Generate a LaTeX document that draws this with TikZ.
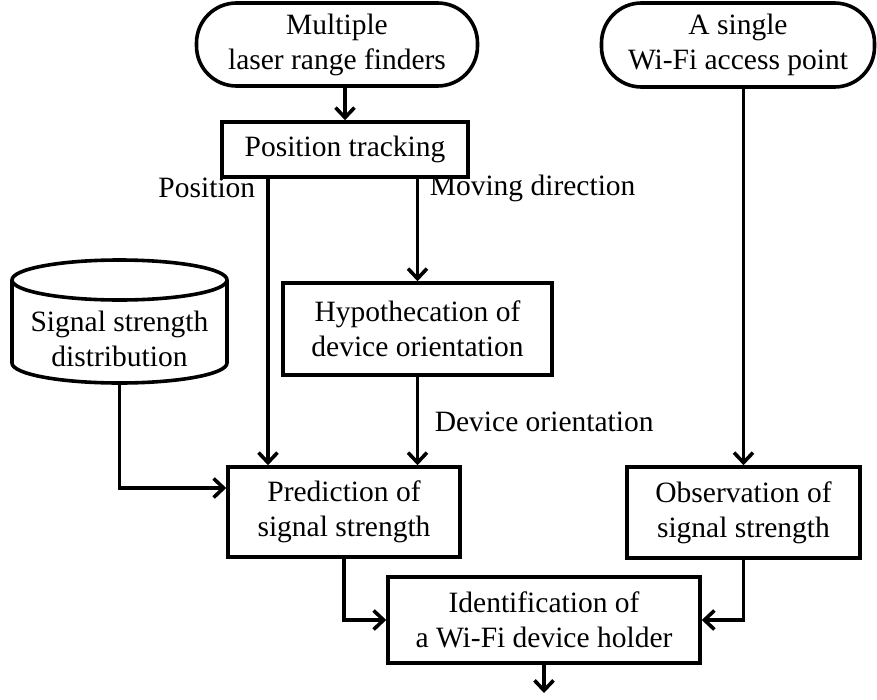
\documentclass[tikz,border=0pt]{standalone}
\usepackage{fontspec}
\setmainfont{Liberation Serif}
\usetikzlibrary{arrows.meta}

\begin{document}
\begin{tikzpicture}[x=1pt, y=-1pt, line width=3.6pt,
  txt/.style={align=center, inner sep=0pt, font=\fontsize{29.5}{35}\selectfont},
  box/.style={txt, draw, rectangle},
  term/.style={box, rounded corners=40pt},
  arr/.style={-{Straight Barb[length=10pt, width=19pt]}},
  lbl/.style={txt}]

  \useasboundingbox (0,0) rectangle (877,699);

  % sources
  \node[term, minimum width=281pt, minimum height=83pt] (lrf) at (337,44.5)
    {Multiple\\laser range finders};
  \node[term, minimum width=273pt, minimum height=84pt] (wifi) at (738,45)
    {A single\\Wi-Fi access point};

  % processing steps
  \node[box, minimum width=246pt, minimum height=55pt] (track) at (345,149.5)
    {Position tracking};
  \node[box, minimum width=269pt, minimum height=92pt] (hyp) at (417.5,329)
    {Hypothecation of\\device orientation};
  \node[box, minimum width=232pt, minimum height=90pt] (pred) at (344,512)
    {Prediction of\\signal strength};
  \node[box, minimum width=233pt, minimum height=91pt] (obs) at (743.5,512.5)
    {Observation of\\signal strength};
  \node[box, minimum width=312pt, minimum height=86pt] (ident) at (544,620)
    {Identification of\\a Wi-Fi device holder};

  % database cylinder
  \node[txt, minimum width=215pt, minimum height=88pt] (cyl) at (119.5,339)
    {Signal strength\\distribution};
  \draw (12,280) -- (12,363)
    arc[start angle=180, end angle=360, x radius=107.5pt, y radius=20pt]
    -- (227,280);
  \draw (119.5,280) ellipse [x radius=107.5pt, y radius=20pt];

  \coordinate (out) at (544,693);

  % connectors
  \draw[arr] (track.north |- lrf.south) -- (track.north);
  \draw[arr] ([xshift=-77pt]track.south) -- ([xshift=-77pt]track.south |- pred.north);
  \draw[arr] (track.south -| hyp.north) -- (hyp.north);
  \draw[arr] (hyp.south) -- (hyp.south |- pred.north);
  \draw[arr] (cyl.south) |- ([yshift=24pt]pred.west);
  \draw[arr] (wifi.south -| obs.north) -- (obs.north);
  \draw[arr] (pred.south) |- (ident.west);
  \draw[arr] (obs.south) |- (ident.east);
  \draw[arr] (ident.south) -- (out);

  % edge labels
  \node[lbl, anchor=east] (lpos) at (257,188) {Position};
  \node[lbl, anchor=west] (lmov) at (428,188) {Moving direction};
  \node[lbl, anchor=west] (ldev) at (433,422) {Device orientation};
\end{tikzpicture}
\end{document}
